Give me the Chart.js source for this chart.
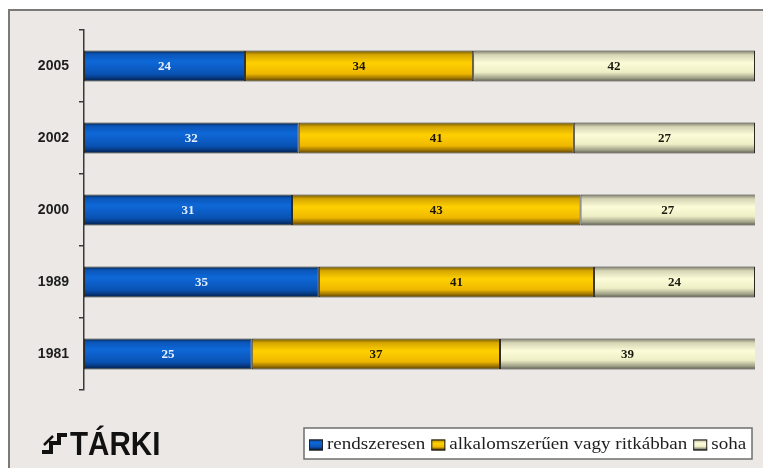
<!DOCTYPE html>
<html>
<head>
<meta charset="utf-8">
<script src="https://cdn.jsdelivr.net/npm/chart.js@4/dist/chart.umd.min.js"></script>
<style>
  html, body { margin: 0; padding: 0; background: #fff; }
  #wrap { width: 763px; height: 468px; }
</style>
</head>
<body>
<div id="wrap"><canvas id="chart" width="763" height="468"></canvas></div>
<script>
const years = ['2005', '2002', '2000', '1989', '1981'];
const rendszeresen = [24, 32, 31, 35, 25];
const alkalomszeruen = [34, 41, 43, 41, 37];
const soha = [42, 27, 27, 24, 39];
const seriesNames = ['rendszeresen', 'alkalomszerűen vagy ritkábban', 'soha'];

const BAR_PCT = 0.43;

// vertical shading of each bar, dark at the edges
const shades = [
    [[0, '#08244a'], [0.12, '#0a56b8'], [0.35, '#0e68d8'], [0.75, '#0953b4'], [0.9, '#06367a'], [1, '#041a36']],
    [[0, '#6e5200'], [0.14, '#d6a600'], [0.4, '#ffd000'], [0.75, '#efb800'], [0.9, '#9a7000'], [1, '#4e3800']],
    [[0, '#75756a'], [0.14, '#d6d6b6'], [0.4, '#fcfcd8'], [0.7, '#eeeec6'], [0.9, '#9c9c84'], [1, '#50504a']]
];
const flatColors = ['#0b5cc4', '#f2c200', '#f4f4d0'];
const labelColors = ['#e6efff', '#1a1400', '#1a1a10'];

function barGradient(context, s) {
    const chart = context.chart;
    const y = chart.scales.y;
    if (!chart.chartArea || !y || context.dataIndex === undefined) return flatColors[s];
    const yc = y.getPixelForValue(context.dataIndex);
    const half = (chart.chartArea.height / years.length) * BAR_PCT / 2;
    const g = chart.ctx.createLinearGradient(0, yc - half, 0, yc + half);
    shades[s].forEach(([p, c]) => g.addColorStop(p, c));
    return g;
}

const frameBg = {
    id: 'frameBg',
    beforeDraw(chart) {
        const ctx = chart.ctx;
        ctx.save();
        ctx.fillStyle = '#ffffff';
        ctx.fillRect(0, 0, chart.width, chart.height);
        ctx.fillStyle = '#ebe8e5';
        ctx.fillRect(8, 9, chart.width - 8, chart.height - 9);
        ctx.strokeStyle = '#7c7a78';
        ctx.lineWidth = 2;
        ctx.beginPath();
        ctx.moveTo(9, chart.height);
        ctx.lineTo(9, 10);
        ctx.lineTo(chart.width, 10);
        ctx.stroke();
        ctx.restore();
    }
};

const segmentLabels = {
    id: 'segmentLabels',
    afterDatasetsDraw(chart) {
        const ctx = chart.ctx;
        const right = chart.chartArea.right;
        ctx.save();
        ctx.font = 'bold 13px "Liberation Serif", serif';
        ctx.textAlign = 'center';
        ctx.textBaseline = 'middle';
        chart.data.datasets.forEach((ds, s) => {
            chart.getDatasetMeta(s).data.forEach((bar, i) => {
                const x0 = Math.min(bar.base, right);
                const x1 = Math.min(bar.x, right);
                ctx.fillStyle = labelColors[s];
                ctx.fillText(ds.data[i], (x0 + x1) / 2, bar.y + 1);
            });
        });
        ctx.restore();
    }
};

const legendBox = {
    id: 'legendBox',
    afterDraw(chart) {
        const ctx = chart.ctx;
        const bx = 304, by = 428, bw = 448, bh = 31;
        const stretch = 1.12;
        ctx.save();
        ctx.fillStyle = '#ffffff';
        ctx.fillRect(bx, by, bw, bh);
        ctx.strokeStyle = '#6e6e6e';
        ctx.lineWidth = 1.5;
        ctx.strokeRect(bx, by, bw, bh);
        ctx.font = '17px "Liberation Serif", serif';
        ctx.textBaseline = 'middle';
        const cy = by + bh / 2 + 1;
        let x = bx + 5;
        seriesNames.forEach((name, s) => {
            const g = ctx.createLinearGradient(0, cy - 5, 0, cy + 5);
            shades[s].forEach(([p, c]) => g.addColorStop(p, c));
            ctx.fillStyle = g;
            ctx.fillRect(x, cy - 5, 14, 11);
            ctx.strokeStyle = '#222';
            ctx.lineWidth = 1;
            ctx.strokeRect(x + 0.5, cy - 4.5, 13, 10);
            x += 18;
            ctx.fillStyle = '#1e1e1e';
            ctx.save();
            ctx.translate(x, cy);
            ctx.scale(stretch, 1);
            ctx.fillText(name, 0, 0);
            ctx.restore();
            x += ctx.measureText(name).width * stretch + 6;
        });
        ctx.restore();
    }
};

// TÁRKI logo, bottom left
const logo = {
    id: 'logo',
    afterDraw(chart) {
        const ctx = chart.ctx;
        ctx.save();
        ctx.fillStyle = '#111';
        ctx.strokeStyle = '#111';
        ctx.lineWidth = 4;
        ctx.lineCap = 'butt';
        ctx.beginPath();
        ctx.moveTo(42, 452);
        ctx.lineTo(51, 452);
        ctx.lineTo(51, 443);
        ctx.lineTo(59, 443);
        ctx.lineTo(59, 435);
        ctx.lineTo(67, 435);
        ctx.stroke();
        ctx.lineWidth = 2.5;
        ctx.beginPath();
        ctx.moveTo(44, 445);
        ctx.lineTo(53, 436);
        ctx.stroke();
        ctx.translate(70, 455);
        ctx.scale(0.87, 1);
        ctx.font = 'bold 34px "Liberation Sans", Arial, sans-serif';
        ctx.textBaseline = 'alphabetic';
        ctx.fillText('TÁRKI', 0, 0);
        ctx.restore();
    }
};

const ctx = document.getElementById('chart').getContext('2d');

new Chart(ctx, {
    type: 'bar',
    data: {
        labels: years,
        datasets: [rendszeresen, alkalomszeruen, soha].map((values, s) => ({
            label: seriesNames[s],
            data: values,
            backgroundColor: (c) => barGradient(c, s),
            borderColor: '#2b2a22',
            borderWidth: 1,
            borderSkipped: false,
            categoryPercentage: 1,
            barPercentage: BAR_PCT
        }))
    },
    options: {
        indexAxis: 'y',
        responsive: false,
        animation: false,
        layout: { padding: { top: 30, right: 8, bottom: 78, left: 0 } },
        plugins: {
            legend: { display: false },
            tooltip: { enabled: false }
        },
        scales: {
            x: {
                stacked: true,
                min: 0,
                max: 100,
                display: false
            },
            y: {
                stacked: true,
                afterFit(scale) { scale.width = 84; },
                border: { display: true, color: '#3a3a3a', width: 1.5 },
                grid: {
                    drawOnChartArea: false,
                    drawTicks: true,
                    tickLength: 5,
                    color: '#3a3a3a',
                    lineWidth: 1.5
                },
                ticks: {
                    color: '#1e1e1e',
                    padding: 10,
                    font: { family: '"Liberation Sans", Arial, sans-serif', weight: 'bold', size: 14 }
                }
            }
        }
    },
    plugins: [frameBg, segmentLabels, legendBox, logo]
});
</script>
</body>
</html>
